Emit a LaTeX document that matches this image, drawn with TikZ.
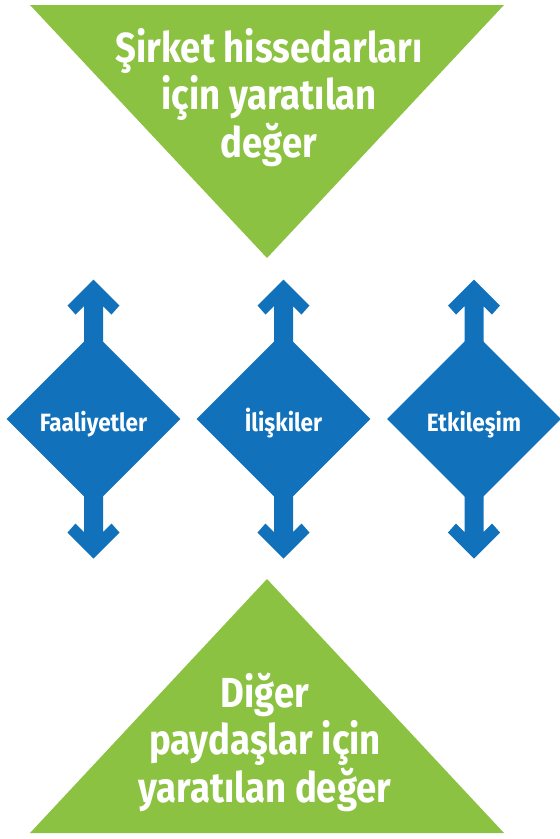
\documentclass[tikz,border=0pt]{standalone}
\usepackage{fontspec}
\setmainfont{Fira Sans}
\newfontfamily\narrowsans[FakeStretch=0.87]{Fira Sans}
\newfontfamily\labelsans[FakeStretch=0.9]{Fira Sans}
\usetikzlibrary{shapes.geometric}
\definecolor{leaf}{RGB}{140,194,66}
\definecolor{sea}{RGB}{17,114,187}
\tikzset{
  x=1pt, y=-1pt,
  triangletext/.style={text=white, align=center, anchor=base, inner sep=0,
    font=\narrowsans\fontsize{42}{47.5}\selectfont\bfseries},
  gem/.style={diamond, aspect=1, fill=sea, minimum size=174pt, inner sep=0},
  gemtext/.style={text=white, anchor=base, inner sep=0,
    font=\labelsans\fontsize{25}{28}\selectfont\bfseries},
  shaft/.style={fill=sea},
}
\newcommand{\twowayarrow}[1]{%
  \fill[shaft] (#1) ++(0,-139.5)
    -- ++(26,26) -- ++(-8,9) -- ++(-8.5,-8.5)
    -- ++(0,226) -- ++(8.5,-8.5) -- ++(8,9) -- ++(-26,26)
    -- ++(-26,-26) -- ++(8,-9) -- ++(8.5,8.5)
    -- ++(0,-226) -- ++(-8.5,8.5) -- ++(-8,-9) -- cycle;}
\begin{document}
\begin{tikzpicture}
\useasboundingbox (0,0) rectangle (560,839);
% value triangles
\coordinate (topL) at (30,5);
\coordinate (topR) at (504,5);
\coordinate (topApex) at (267,258);
\fill[leaf] (topL) -- (topR) -- (topApex) -- cycle;
\coordinate (botL) at (30,833);
\coordinate (botR) at (504,833);
\coordinate (botApex) at (267,579);
\fill[leaf] (botL) -- (botR) -- (botApex) -- cycle;
% anchored at the baseline of the last line
\node[triangletext] (shareholders) at (269,157) {Şirket hissedarları\\için yaratılan\\değer};
\node[triangletext] (stakeholders) at (265,802) {Diğer\\paydaşlar için\\yaratılan değer};
% the three channels
\coordinate (c1) at (93.5,419);
\coordinate (c2) at (283.5,419);
\coordinate (c3) at (474,419);
\twowayarrow{c1}
\twowayarrow{c2}
\twowayarrow{c3}
\node[gem] (activities) at (c1) {};
\node[gem] (relations) at (c2) {};
\node[gem] (interaction) at (c3) {};
\node[gemtext] (activitiesLabel) at ([yshift=-12pt]activities.center) {Faaliyetler};
\node[gemtext] (relationsLabel) at ([yshift=-12pt]relations.center) {İlişkiler};
\node[gemtext] (interactionLabel) at ([yshift=-12pt]interaction.center) {Etkileşim};
\end{tikzpicture}
\end{document}
